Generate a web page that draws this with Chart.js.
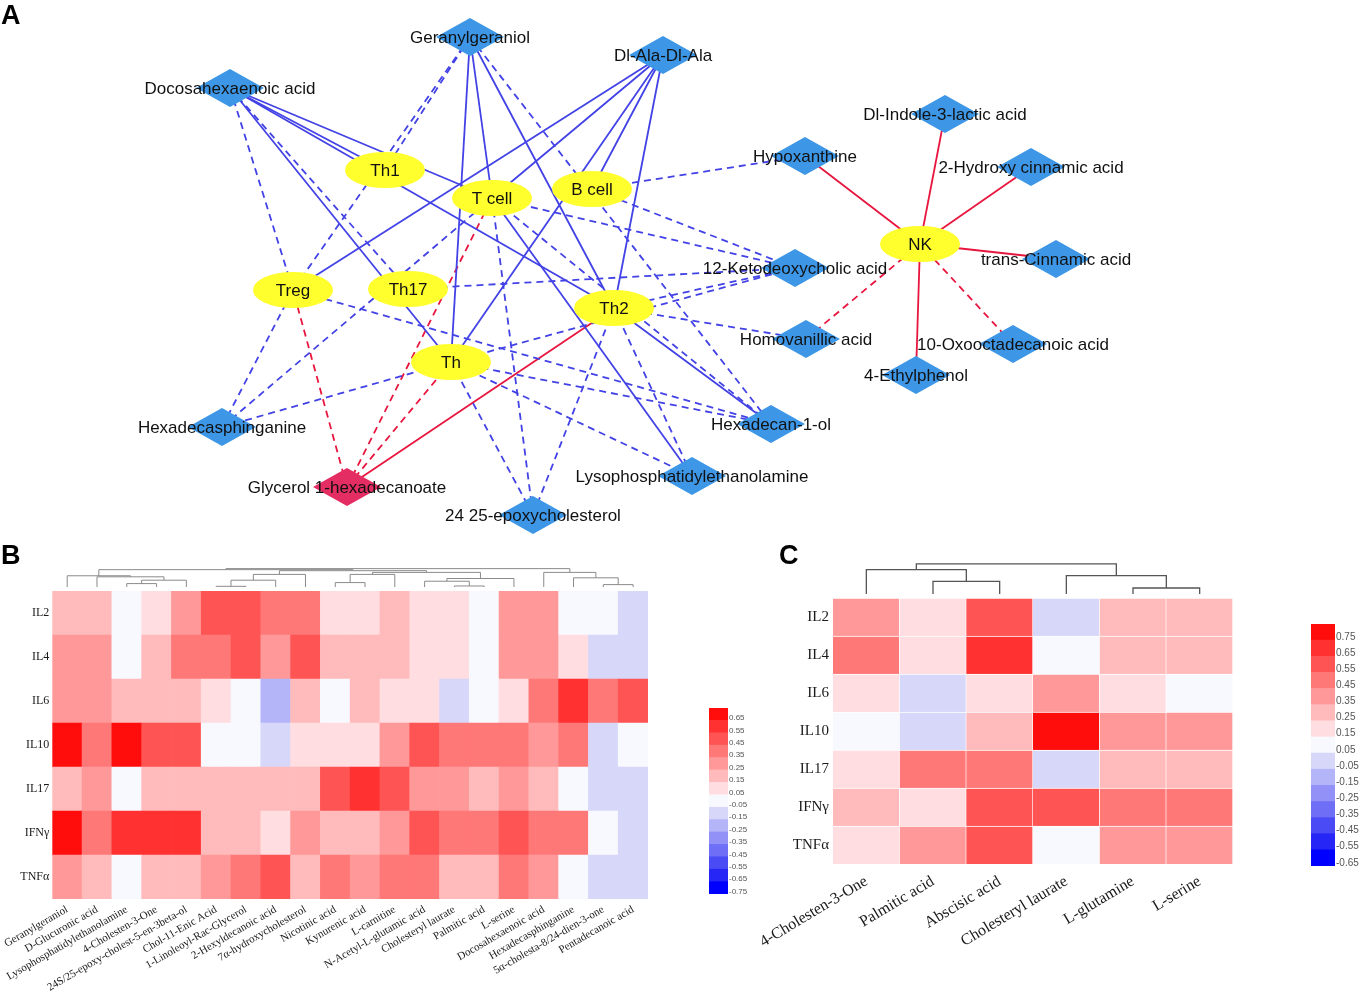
<!DOCTYPE html>
<html>
<head>
<meta charset="utf-8">
<script src="https://cdn.jsdelivr.net/npm/chart.js@4.4.0/dist/chart.umd.min.js"></script>
<style>
  body { margin: 0; background: #fff; width: 1360px; height: 994px; position: relative; overflow: hidden; }
  canvas { position: absolute; }
  .tag { position: absolute; font: bold 27px "Liberation Sans", Arial, sans-serif; line-height: 1; z-index: 2; }
</style>
</head>
<body>
<div class="tag" style="left:1px;top:2px">A</div>
<div class="tag" style="left:1px;top:542px">B</div>
<div class="tag" style="left:779px;top:542px">C</div>

<canvas id="net" width="1360" height="545" style="left:0;top:0"></canvas>
<canvas id="heatB" width="700" height="449" style="left:0;top:545px"></canvas>
<canvas id="barB" width="60" height="200" style="left:700px;top:700px"></canvas>
<canvas id="heatC" width="550" height="449" style="left:730px;top:545px"></canvas>
<canvas id="barC" width="60" height="260" style="left:1300px;top:615px"></canvas>

<script>
// ---------- panel A : network ----------
// node layout (network coordinates)
let cellNames = ['Th1', 'T cell', 'B cell', 'Treg', 'Th17', 'Th2', 'Th', 'NK']
let cellX = [385, 492, 592, 293, 408, 614, 451, 920]
let cellY = [170, 198, 189, 290, 289, 308, 362, 244]

let metaNames = ['Geranylgeraniol', 'Dl-Ala-Dl-Ala', 'Docosahexaenoic acid', 'Dl-Indole-3-lactic acid',
  'Hypoxanthine', '2-Hydroxy cinnamic acid', 'trans-Cinnamic acid', '12-Ketodeoxycholic acid',
  'Homovanillic acid', '10-Oxooctadecanoic acid', '4-Ethylphenol', 'Hexadecan-1-ol',
  'Lysophosphatidylethanolamine', 'Hexadecasphinganine', '24 25-epoxycholesterol']
let metaX = [470, 663, 230, 945, 805, 1031, 1056, 795, 806, 1013, 916, 771, 692, 222, 533]
let metaY = [37, 55, 88, 114, 156, 167, 259, 268, 339, 344, 375, 424, 476, 427, 515]

let redNames = ['Glycerol 1-hexadecanoate']
let redX = [347]
let redY = [487]

// edges: from, to, colour group, line type
let edges = [
  ['Docosahexaenoic acid', 'Th1', 'blue', 'solid'],
  ['Docosahexaenoic acid', 'T cell', 'blue', 'solid'],
  ['Docosahexaenoic acid', 'Th2', 'blue', 'solid'],
  ['Docosahexaenoic acid', 'Th', 'blue', 'solid'],
  ['Docosahexaenoic acid', 'Treg', 'blue', 'dashed'],
  ['Docosahexaenoic acid', 'Th17', 'blue', 'dashed'],
  ['Geranylgeraniol', 'Th1', 'blue', 'dashed'],
  ['Geranylgeraniol', 'Treg', 'blue', 'dashed'],
  ['Geranylgeraniol', 'Th', 'blue', 'solid'],
  ['Geranylgeraniol', 'T cell', 'blue', 'solid'],
  ['Geranylgeraniol', 'Th2', 'blue', 'solid'],
  ['Geranylgeraniol', 'Hexadecan-1-ol', 'blue', 'dashed'],
  ['Dl-Ala-Dl-Ala', 'Treg', 'blue', 'solid'],
  ['Dl-Ala-Dl-Ala', 'T cell', 'blue', 'solid'],
  ['Dl-Ala-Dl-Ala', 'B cell', 'blue', 'solid'],
  ['Dl-Ala-Dl-Ala', 'Th', 'blue', 'solid'],
  ['Dl-Ala-Dl-Ala', 'Th2', 'blue', 'solid'],
  ['Hypoxanthine', 'B cell', 'blue', 'dashed'],
  ['12-Ketodeoxycholic acid', 'T cell', 'blue', 'dashed'],
  ['12-Ketodeoxycholic acid', 'B cell', 'blue', 'dashed'],
  ['12-Ketodeoxycholic acid', 'Th17', 'blue', 'dashed'],
  ['12-Ketodeoxycholic acid', 'Th2', 'blue', 'dashed'],
  ['12-Ketodeoxycholic acid', 'Th', 'blue', 'dashed'],
  ['Homovanillic acid', 'Th2', 'blue', 'dashed'],
  ['Hexadecan-1-ol', 'Th2', 'blue', 'solid'],
  ['Hexadecan-1-ol', 'T cell', 'blue', 'dashed'],
  ['Hexadecan-1-ol', 'Treg', 'blue', 'dashed'],
  ['Hexadecan-1-ol', 'Th', 'blue', 'dashed'],
  ['Lysophosphatidylethanolamine', 'T cell', 'blue', 'solid'],
  ['Lysophosphatidylethanolamine', 'Th', 'blue', 'dashed'],
  ['Lysophosphatidylethanolamine', 'Th2', 'blue', 'dashed'],
  ['Hexadecasphinganine', 'Treg', 'blue', 'dashed'],
  ['Hexadecasphinganine', 'T cell', 'blue', 'dashed'],
  ['Hexadecasphinganine', 'Th', 'blue', 'dashed'],
  ['24 25-epoxycholesterol', 'T cell', 'blue', 'dashed'],
  ['24 25-epoxycholesterol', 'Th', 'blue', 'dashed'],
  ['24 25-epoxycholesterol', 'Th2', 'blue', 'dashed'],
  ['Glycerol 1-hexadecanoate', 'Treg', 'red', 'dashed'],
  ['Glycerol 1-hexadecanoate', 'T cell', 'red', 'dashed'],
  ['Glycerol 1-hexadecanoate', 'Th', 'red', 'dashed'],
  ['Glycerol 1-hexadecanoate', 'Th2', 'red', 'solid'],
  ['Hypoxanthine', 'NK', 'red', 'solid'],
  ['Dl-Indole-3-lactic acid', 'NK', 'red', 'solid'],
  ['2-Hydroxy cinnamic acid', 'NK', 'red', 'solid'],
  ['trans-Cinnamic acid', 'NK', 'red', 'solid'],
  ['4-Ethylphenol', 'NK', 'red', 'solid'],
  ['10-Oxooctadecanoic acid', 'NK', 'red', 'dashed'],
  ['Homovanillic acid', 'NK', 'red', 'dashed']
]

// ---------- panel B : heatmap ----------
let bRows = ['IL2', 'IL4', 'IL6', 'IL10', 'IL17', 'IFNγ', 'TNFα']
let bCols = ['Geranylgeraniol', 'D-Glucuronic acid', 'Lysophosphatidylethanolamine', '4-Cholesten-3-One',
  '24S/25-epoxy-cholest-5-en-3beta-ol', 'Chol-11-Enic Acid', '1-Linoleoyl-Rac-Glycerol', '2-Hexyldecanoic acid',
  '7α-hydroxycholesterol', 'Nicotinic acid', 'Kynurenic acid', 'L-carnitine', 'N-Acetyl-L-glutamic acid',
  'Cholesteryl laurate', 'Palmitic acid', 'L-serine', 'Docosahexaenoic acid', 'Hexadecasphinganine',
  '5α-cholesta-8/24-dien-3-one', 'Pentadecanoic acid']
let bIL2 = [0.15, 0.15, -0.05, 0.05, 0.25, 0.45, 0.45, 0.35, 0.35, 0.05, 0.05, 0.15, 0.05, 0.05, -0.05, 0.25, 0.25, -0.05, -0.05, -0.15]
let bIL4 = [0.25, 0.25, -0.05, 0.15, 0.35, 0.35, 0.45, 0.25, 0.45, 0.15, 0.15, 0.15, 0.05, 0.05, -0.05, 0.25, 0.25, 0.05, -0.15, -0.15]
let bIL6 = [0.25, 0.25, 0.15, 0.15, 0.15, 0.05, -0.05, -0.25, 0.15, -0.05, 0.15, 0.05, 0.05, -0.15, -0.05, 0.05, 0.35, 0.55, 0.35, 0.45]
let bIL10 = [0.65, 0.35, 0.65, 0.45, 0.45, -0.05, -0.05, -0.15, 0.05, 0.05, 0.05, 0.25, 0.45, 0.35, 0.35, 0.35, 0.25, 0.35, -0.15, -0.05]
let bIL17 = [0.15, 0.25, -0.05, 0.15, 0.15, 0.15, 0.15, 0.15, 0.15, 0.45, 0.55, 0.45, 0.25, 0.25, 0.15, 0.25, 0.15, -0.05, -0.15, -0.15]
let bIFNg = [0.65, 0.35, 0.55, 0.55, 0.55, 0.15, 0.15, 0.05, 0.25, 0.15, 0.15, 0.25, 0.45, 0.35, 0.35, 0.45, 0.35, 0.35, -0.05, -0.15]
let bTNFa = [0.25, 0.15, -0.05, 0.15, 0.15, 0.25, 0.35, 0.45, 0.15, 0.35, 0.25, 0.35, 0.35, 0.15, 0.15, 0.35, 0.25, -0.05, -0.15, -0.15]
// column dendrogram: [child a, child b, height]; new nodes numbered from 20
let bTree = [[2, 3, 10], [20, 4, 20], [1, 21, 30], [0, 22, 33],
  [5, 6, 2], [24, 7, 20], [25, 8, 37],
  [9, 10, 13], [27, 11, 37],
  [13, 14, 3], [12, 29, 17], [30, 15, 25],
  [18, 19, 7], [17, 32, 27], [16, 33, 43],
  [28, 31, 43], [26, 35, 48], [23, 36, 51], [37, 34, 54]]
let bScale = ['0.65', '0.55', '0.45', '0.35', '0.25', '0.15', '0.05', '-0.05', '-0.15', '-0.25', '-0.35', '-0.45', '-0.55', '-0.65', '-0.75']

// ---------- panel C : heatmap ----------
let cRows = ['IL2', 'IL4', 'IL6', 'IL10', 'IL17', 'IFNγ', 'TNFα']
let cCols = ['4-Cholesten-3-One', 'Palmitic acid', 'Abscisic acid', 'Cholesteryl laurate', 'L-glutamine', 'L-serine']
let cIL2 = [0.35, 0.15, 0.55, -0.05, 0.25, 0.25]
let cIL4 = [0.45, 0.15, 0.65, 0.05, 0.25, 0.25]
let cIL6 = [0.15, -0.05, 0.15, 0.35, 0.15, 0.05]
let cIL10 = [0.05, -0.05, 0.25, 0.75, 0.35, 0.35]
let cIL17 = [0.15, 0.45, 0.45, -0.05, 0.25, 0.25]
let cIFNg = [0.25, 0.15, 0.55, 0.55, 0.45, 0.45]
let cTNFa = [0.15, 0.35, 0.55, 0.05, 0.35, 0.35]
let cTree = [[1, 2, 38], [0, 6, 73], [4, 5, 18], [3, 8, 55], [7, 9, 90]]
let cScale = ['0.75', '0.65', '0.55', '0.45', '0.35', '0.25', '0.15', '0.05', '-0.05', '-0.15', '-0.25', '-0.35', '-0.45', '-0.55', '-0.65']

// colour steps from red (top) to blue (bottom)
let palette = ['#ff0d0d', '#ff3131', '#ff5454', '#ff7878', '#ff9999', '#ffbbbb', '#ffdde0', '#f8f8ff',
  '#d7d7fa', '#b4b4f9', '#9191f7', '#6e6ef6', '#4b4bf5', '#2626f7', '#0000ff']

Chart.defaults.font.family = '"Liberation Sans", Arial, sans-serif'
Chart.defaults.animation = false
Chart.defaults.events = []
Chart.defaults.plugins.legend.display = false
Chart.defaults.plugins.tooltip.enabled = false

/* ---- network ---- */
function shapeImage(w, h, fill, kind) {
  let c = document.createElement('canvas')
  c.width = w
  c.height = h
  let g = c.getContext('2d')
  g.fillStyle = fill
  g.beginPath()
  if (kind == 'ellipse') {
    g.ellipse(w / 2, h / 2, w / 2, h / 2, 0, 0, Math.PI * 2)
  } else {
    g.moveTo(w / 2, 0); g.lineTo(w, h / 2); g.lineTo(w / 2, h); g.lineTo(0, h / 2); g.closePath()
  }
  g.fill()
  return c
}

let nodes = []
cellNames.forEach((n, i) => nodes.push({ name: n, x: cellX[i], y: cellY[i] }))
metaNames.forEach((n, i) => nodes.push({ name: n, x: metaX[i], y: metaY[i] }))
redNames.forEach((n, i) => nodes.push({ name: n, x: redX[i], y: redY[i] }))
let where = {}
nodes.forEach(n => where[n.name] = n)

let edgeColors = { blue: '#4242e6', red: '#e8163f' }
let netSets = edges.map(e => ({
  data: [{ x: where[e[0]].x, y: where[e[0]].y }, { x: where[e[1]].x, y: where[e[1]].y }],
  showLine: true,
  borderColor: edgeColors[e[2]],
  borderWidth: 1.8,
  borderDash: e[3] == 'dashed' ? [7, 5] : [],
  pointRadius: 0,
  order: 1
}))
netSets.push({
  data: cellNames.map((n, i) => ({ x: cellX[i], y: cellY[i] })),
  pointStyle: shapeImage(80, 36, '#ffff2e', 'ellipse'), pointRadius: 10, order: 0
})
netSets.push({
  data: metaNames.map((n, i) => ({ x: metaX[i], y: metaY[i] })),
  pointStyle: shapeImage(68, 38, '#3d97e6', 'diamond'), pointRadius: 10, order: 0
})
netSets.push({
  data: redNames.map((n, i) => ({ x: redX[i], y: redY[i] })),
  pointStyle: shapeImage(68, 38, '#e42d63', 'diamond'), pointRadius: 10, order: 0
})

// write node names on top of the shapes
let nodeLabels = {
  id: 'nodeLabels',
  afterDatasetsDraw(chart) {
    let ctx = chart.ctx
    let sx = chart.scales.x, sy = chart.scales.y
    ctx.save()
    ctx.font = '17px "Liberation Sans", Arial, sans-serif'
    ctx.fillStyle = '#111'
    ctx.textAlign = 'center'
    ctx.textBaseline = 'middle'
    nodes.forEach(n => ctx.fillText(n.name, sx.getPixelForValue(n.x), sy.getPixelForValue(n.y) + 1))
    ctx.restore()
  }
}

new Chart(document.querySelector('#net'), {
  type: 'scatter',
  data: { datasets: netSets },
  options: {
    responsive: false,
    layout: { padding: 0, autoPadding: false },
    scales: {
      x: { type: 'linear', min: 0, max: 1360, display: false },
      y: { type: 'linear', min: 0, max: 545, reverse: true, display: false }
    }
  },
  plugins: [nodeLabels]
})

/* ---- heatmaps ---- */
// dendrogram above the columns, leaves taken from the x scale
let dendro = {
  id: 'dendro',
  afterDraw(chart, args, o) {
    let ctx = chart.ctx
    let area = chart.chartArea
    let sx = chart.scales.x
    let px = [], py = []
    chart.data.labels.forEach((l, i) => { px.push(sx.getPixelForValue(i)); py.push(area.top - o.gap) })
    ctx.save()
    ctx.strokeStyle = o.color
    ctx.lineWidth = o.width
    ctx.beginPath()
    o.tree.forEach(m => {
      let a = m[0], b = m[1]
      let yy = area.top - o.gap - m[2] * o.unit
      ctx.moveTo(px[a], py[a]); ctx.lineTo(px[a], yy); ctx.lineTo(px[b], yy); ctx.lineTo(px[b], py[b])
      px.push((px[a] + px[b]) / 2)
      py.push(yy)
    })
    ctx.stroke()
    ctx.restore()
  }
}

function colorFor(v, scaleTicks) {
  let top = parseFloat(scaleTicks[0])
  let k = Math.round((top - v) / 0.1)
  return palette[Math.max(0, Math.min(palette.length - 1, k))]
}

function heatmap(id, rows, cols, table, scaleTicks, cfg) {
  let datasets = rows.map((r, i) => ({
    label: r,
    data: cols.map(() => 1),
    backgroundColor: table[i].map(v => colorFor(v, scaleTicks)),
    borderColor: '#ffffff',
    borderWidth: cfg.border,
    borderSkipped: false,
    barPercentage: 1,
    categoryPercentage: 1
  })).reverse()   // first row sits on top of the stack

  new Chart(document.querySelector(id), {
    type: 'bar',
    data: { labels: cols, datasets: datasets },
    options: {
      responsive: false,
      layout: { padding: cfg.padding },
      scales: {
        x: {
          stacked: true,
          grid: { display: false, drawTicks: false },
          border: { display: false },
          ticks: {
            autoSkip: false, minRotation: cfg.rotation, maxRotation: cfg.rotation, padding: cfg.xPad,
            color: '#1a1a1a', font: { family: '"Liberation Serif", "Times New Roman", serif', size: cfg.xFont }
          },
          afterFit: s => { s.height = cfg.xHeight }
        },
        y: {
          stacked: true, min: 0, max: rows.length,
          grid: { display: false, drawTicks: false },
          border: { display: false },
          afterBuildTicks: s => { s.ticks = rows.map((r, i) => ({ value: rows.length - i - 0.5 })) },
          ticks: {
            callback: (v, i) => rows[i], padding: cfg.yPad,
            color: '#1a1a1a', font: { family: '"Liberation Serif", "Times New Roman", serif', size: cfg.yFont }
          },
          afterFit: s => { s.width = cfg.yWidth }
        }
      },
      plugins: { dendro: cfg.dendro }
    },
    plugins: [dendro]
  })
}

function colorbar(id, scaleTicks, cfg) {
  let n = scaleTicks.length
  let datasets = scaleTicks.map((t, k) => ({
    data: [1], backgroundColor: palette[k], barPercentage: 1, categoryPercentage: 1
  })).reverse()
  new Chart(document.querySelector(id), {
    type: 'bar',
    data: { labels: [''], datasets: datasets },
    options: {
      responsive: false,
      layout: { padding: cfg.padding },
      scales: {
        x: { stacked: true, display: false },
        y: {
          stacked: true, position: 'right', min: 0, max: n,
          grid: { display: false, drawTicks: false },
          border: { display: false },
          afterBuildTicks: s => { s.ticks = scaleTicks.map((t, k) => ({ value: n - k - 0.8 })) },
          ticks: { callback: (v, i) => scaleTicks[i], padding: 1, color: '#555', font: { size: cfg.font } },
          afterFit: s => { s.width = cfg.width }
        }
      }
    }
  })
}

heatmap('#heatB', bRows, bCols, [bIL2, bIL4, bIL6, bIL10, bIL17, bIFNg, bTNFa], bScale, {
  padding: { top: 46, right: 52, left: 0, bottom: 0 },
  yWidth: 52, xHeight: 95, rotation: 30, xFont: 11, yFont: 12, xPad: 4, yPad: 3, border: 0,
  dendro: { tree: bTree, gap: 4, unit: 0.34, color: '#8a8a8a', width: 1 }
})
colorbar('#barB', bScale, { padding: { top: 8, bottom: 6, left: 9, right: 0 }, width: 32, font: 8 })

heatmap('#heatC', cRows, cCols, [cIL2, cIL4, cIL6, cIL10, cIL17, cIFNg, cTNFa], cScale, {
  padding: { top: 53, right: 47, left: 0, bottom: 0 },
  yWidth: 103, xHeight: 130, rotation: 31, xFont: 16, yFont: 15, xPad: 8, yPad: 4, border: { top: 1, right: 1, left: 0, bottom: 0 },
  dendro: { tree: cTree, gap: 4, unit: 0.334, color: '#555', width: 1.3 }
})
colorbar('#barC', cScale, { padding: { top: 9, bottom: 9, left: 11, right: 0 }, width: 25, font: 10 })
</script>
</body>
</html>
